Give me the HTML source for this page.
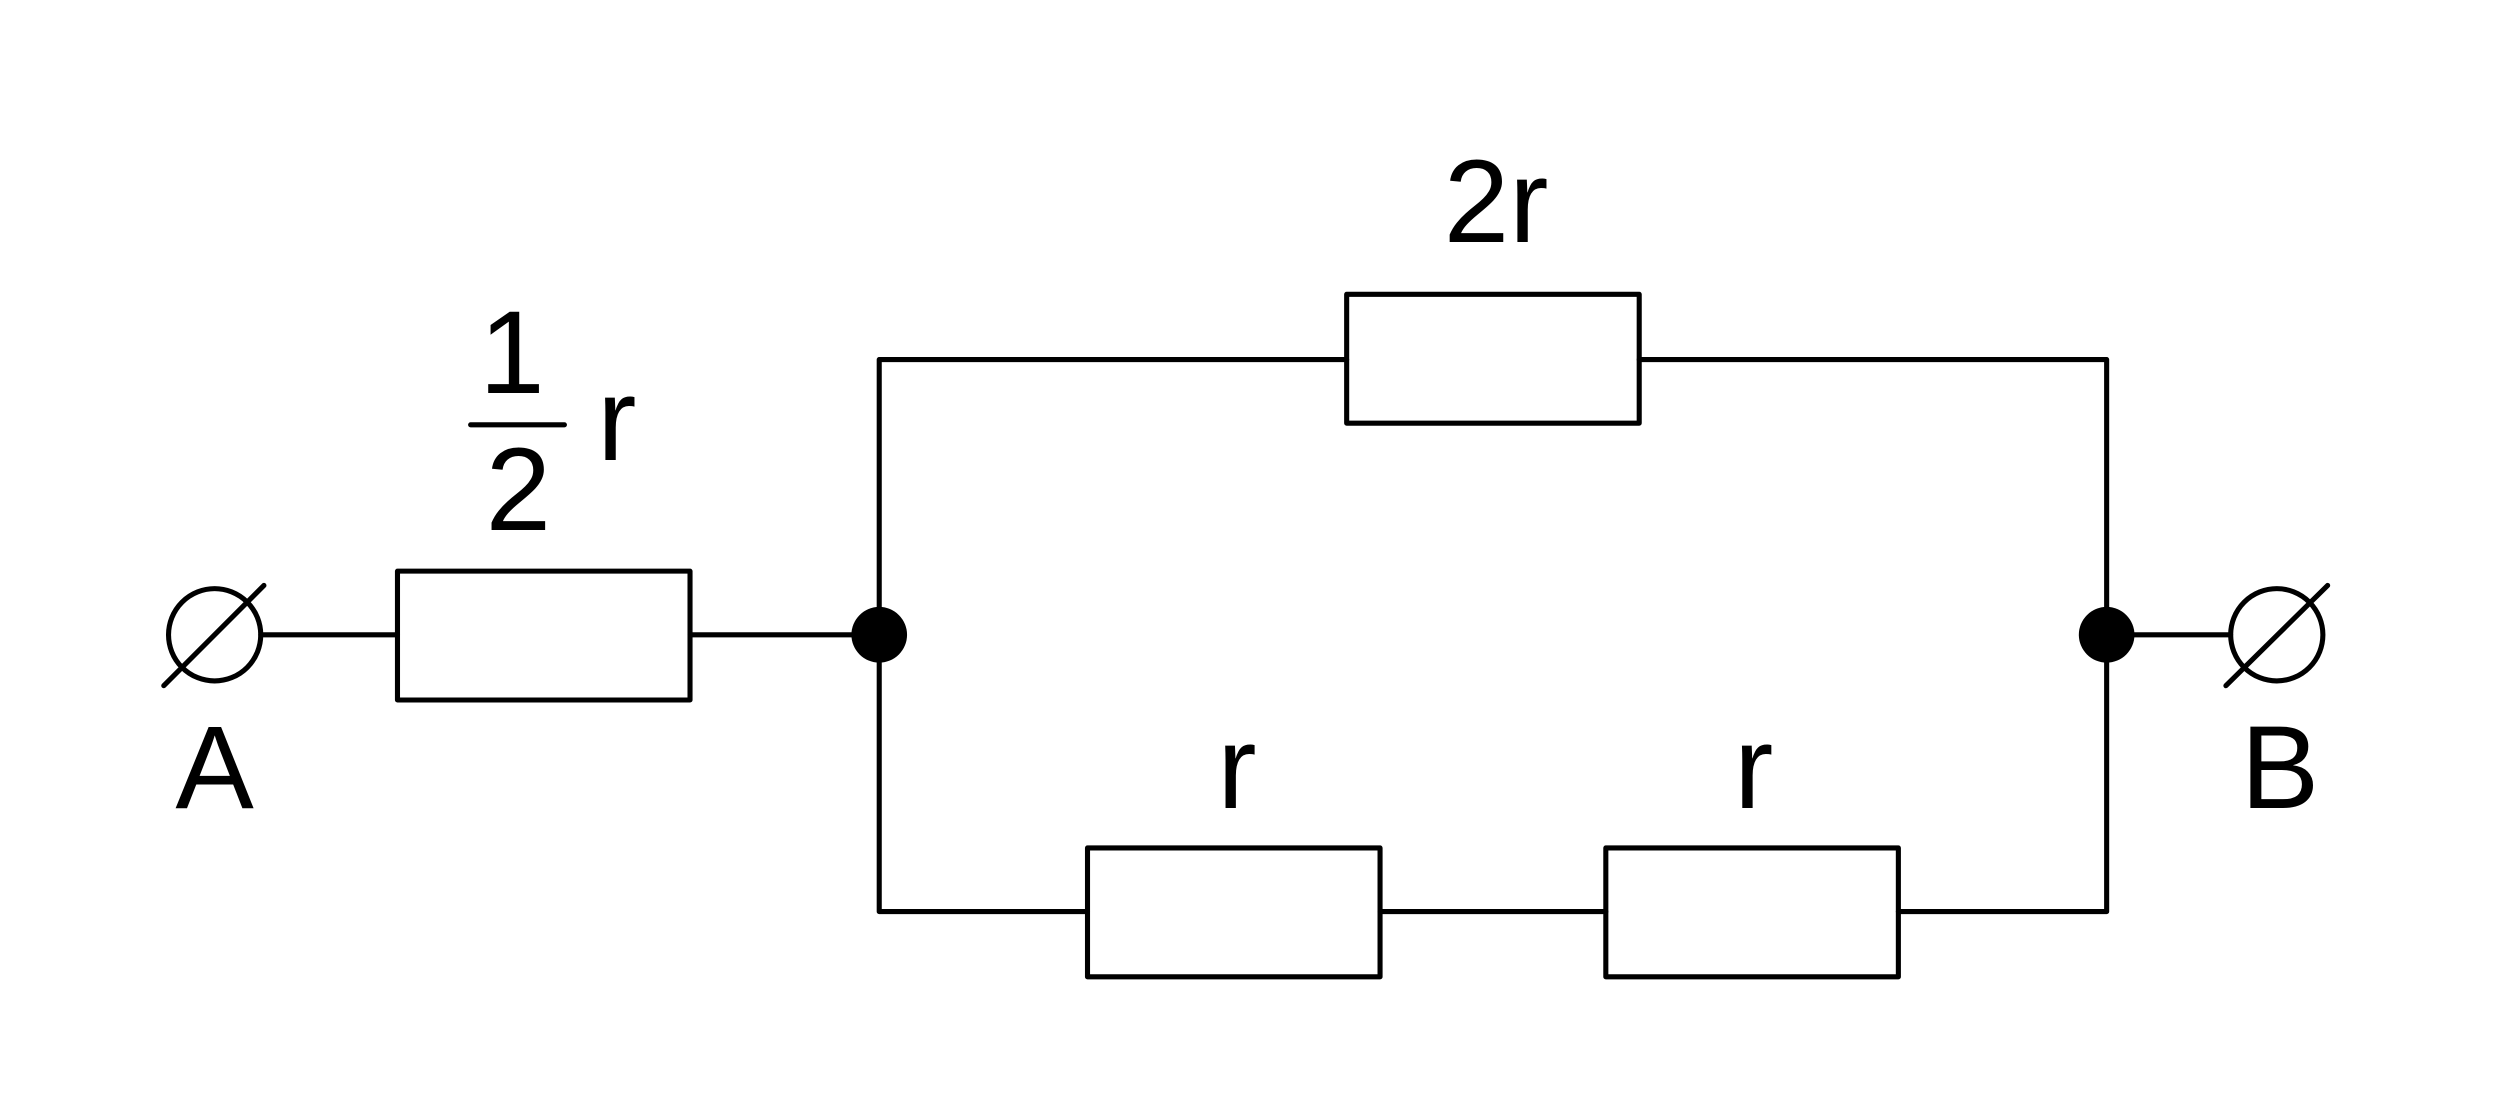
<!DOCTYPE html>
<html><head><meta charset="utf-8"><style>html,body{margin:0;padding:0;background:#fff;overflow:hidden}svg{display:block}</style></head>
<body>
<svg width="2493" height="1120" viewBox="0 0 1568 704" preserveAspectRatio="none" xmlns="http://www.w3.org/2000/svg">
<g fill="none" stroke="#000" stroke-width="3.2" stroke-linecap="round" stroke-linejoin="round">
<circle cx="135" cy="399" r="29"/>
<line x1="103" y1="431" x2="166" y2="368"/>
<line x1="164" y1="399" x2="250" y2="399"/>
<rect x="250" y="359" width="184" height="81"/>
<line x1="434" y1="399" x2="553" y2="399"/>
<polyline points="553,399 553,226 847,226"/>
<rect x="847" y="185" width="184" height="81"/>
<polyline points="1031,226 1325,226 1325,573 1194,573"/>
<rect x="1010" y="533" width="184" height="81"/>
<line x1="868" y1="573" x2="1010" y2="573"/>
<rect x="684" y="533" width="184" height="81"/>
<polyline points="684,573 553,573 553,399"/>
<line x1="1325" y1="399" x2="1403" y2="399"/>
<circle cx="1432" cy="399" r="29"/>
<line x1="1400" y1="431" x2="1464" y2="368"/>
<line x1="296" y1="267" x2="355" y2="267"/>
</g>
<circle cx="553" cy="399" r="17.5" fill="#000"/>
<circle cx="1325" cy="399" r="17.5" fill="#000"/>
<g font-family="'Liberation Sans',sans-serif" font-size="74" fill="#000">
<text x="941" y="152" text-anchor="middle">2r</text>
<text x="322" y="247" text-anchor="middle">1</text>
<text x="326" y="333" text-anchor="middle">2</text>
<text x="388" y="289" text-anchor="middle">r</text>
<text x="778" y="508" text-anchor="middle">r</text>
<text x="1103" y="508" text-anchor="middle">r</text>
<text x="135" y="508" text-anchor="middle">A</text>
<text x="1434" y="508" text-anchor="middle">B</text>
</g>
</svg>
</body></html>
